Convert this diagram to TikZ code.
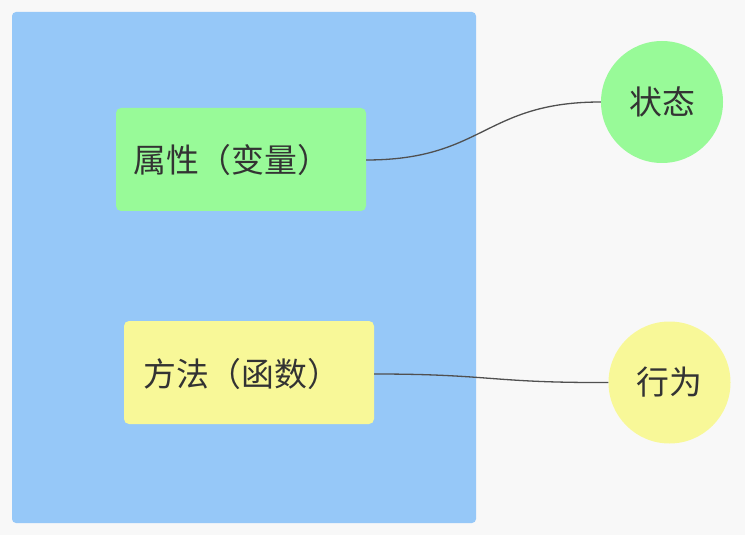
\documentclass[tikz,border=0pt]{standalone}
\usepackage{fontspec}
\setmainfont{Noto Sans CJK SC}
\definecolor{bgc}{RGB}{248,248,248}
\definecolor{bluec}{RGB}{150,200,248}
\definecolor{greenc}{RGB}{152,250,152}
\definecolor{yellowc}{RGB}{248,248,152}
\definecolor{txtc}{RGB}{51,51,51}
\definecolor{linec}{RGB}{80,80,80}
\tikzset{
  box/.style={rounded corners=5bp, draw=none},
  lbl/.style={inner sep=0pt, text=txtc, font=\fontsize{33}{40}\selectfont},
  ball/.style={circle, draw=none, inner sep=0pt, minimum size=122bp, text=txtc, font=\fontsize{33}{40}\selectfont},
  conn/.style={draw=linec, line width=1.3bp}
}
\begin{document}
\begin{tikzpicture}[x=1bp,y=-1bp]
\useasboundingbox (0,0) rectangle (745,535);
\fill[bgc] (0,0) rectangle (745,535);
\fill[bluec, rounded corners=4bp] (12,12) rectangle (476,523);
\fill[greenc, box] (116,108) rectangle (366,211);
\fill[yellowc, box] (124,321) rectangle (374,424);
\coordinate (a) at (366,160);
\coordinate (b) at (374,374);
\node[lbl, anchor=west] (t1) at (133,160) {属性（变量）};
\node[lbl, anchor=west] (t2) at (143,374) {方法（函数）};
\node[ball, fill=greenc] (s) at (662,102) {状态};
\node[ball, fill=yellowc] (h) at (669.5,382.5) {行为};
\draw[conn] (a) .. controls (484,160) and (484,102) .. (s.west);
\draw[conn] (b) .. controls (491,374) and (491,383) .. (h.west);
\end{tikzpicture}
\end{document}
